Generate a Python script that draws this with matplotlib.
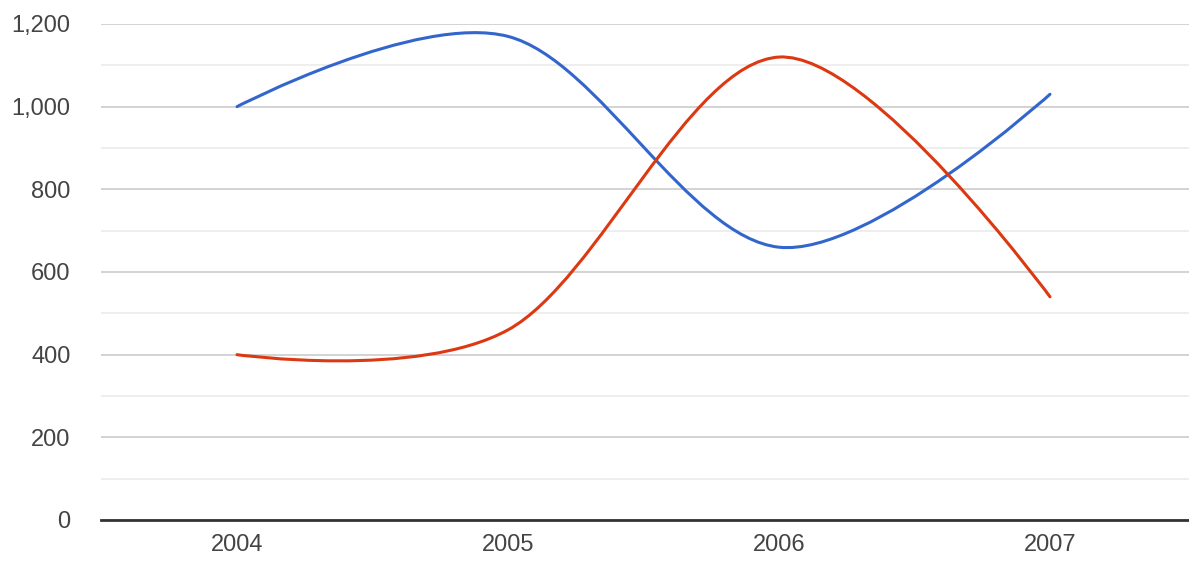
import matplotlib
matplotlib.use("Agg")
import matplotlib.pyplot as plt
from matplotlib.path import Path
from matplotlib.patches import PathPatch
from matplotlib.ticker import MultipleLocator, FuncFormatter

years = ["2004", "2005", "2006", "2007"]
sales = [1000, 1170, 660, 1030]
expenses = [400, 460, 1120, 540]


def smooth_path(xs, ys):
    # cubic bezier through the points; catmull-rom tangents inside,
    # control point sits on the point itself at both ends
    n = len(xs)
    tx, ty = [], []
    for i in range(n):
        if i == 0 or i == n - 1:
            tx.append(0.0)
            ty.append(0.0)
        else:
            tx.append((xs[i + 1] - xs[i - 1]) / 2)
            ty.append((ys[i + 1] - ys[i - 1]) / 2)
    verts = [(xs[0], ys[0])]
    codes = [Path.MOVETO]
    for i in range(n - 1):
        verts += [(xs[i] + tx[i] / 3, ys[i] + ty[i] / 3),
                  (xs[i + 1] - tx[i + 1] / 3, ys[i + 1] - ty[i + 1] / 3),
                  (xs[i + 1], ys[i + 1])]
        codes += [Path.CURVE4] * 3
    return Path(verts, codes)


plt.rcParams['font.family'] = ['Liberation Sans', 'DejaVu Sans']

fig = plt.figure(figsize=(11.89, 5.67), dpi=100)
W, H = 1189, 567
ax = fig.add_axes([101 / W, 1 - 520 / H, (1189 - 101) / W, (520 - 24) / H])

xs = list(range(len(years)))
for vals, color in [(sales, '#3366cc'), (expenses, '#dc3912')]:
    ax.add_patch(PathPatch(smooth_path(xs, vals), facecolor='none',
                           edgecolor=color, lw=2.2, capstyle='round', zorder=3))

ax.set_xlim(-0.502, 3.513)
ax.set_ylim(0, 1200)
ax.set_xticks(xs)
ax.set_xticklabels(years)
ax.yaxis.set_major_locator(MultipleLocator(200))
ax.yaxis.set_minor_locator(MultipleLocator(100))
ax.yaxis.set_major_formatter(FuncFormatter(lambda v, p: f"{int(v):,}"))

ax.grid(True, which='major', axis='y', color='#cccccc', lw=1.2)
ax.grid(True, which='minor', axis='y', color='#ebebeb', lw=1.2)
ax.set_axisbelow(True)

for s in ['top', 'right', 'left']:
    ax.spines[s].set_visible(False)
ax.spines['bottom'].set_color('#333333')
ax.spines['bottom'].set_linewidth(2)
ax.spines['bottom'].set_zorder(4)

ax.tick_params(axis='both', which='both', length=0, labelsize=17, labelcolor='#444444')
ax.tick_params(axis='y', pad=22)
ax.tick_params(axis='x', pad=10)

fig.savefig("out.png", dpi=100)
